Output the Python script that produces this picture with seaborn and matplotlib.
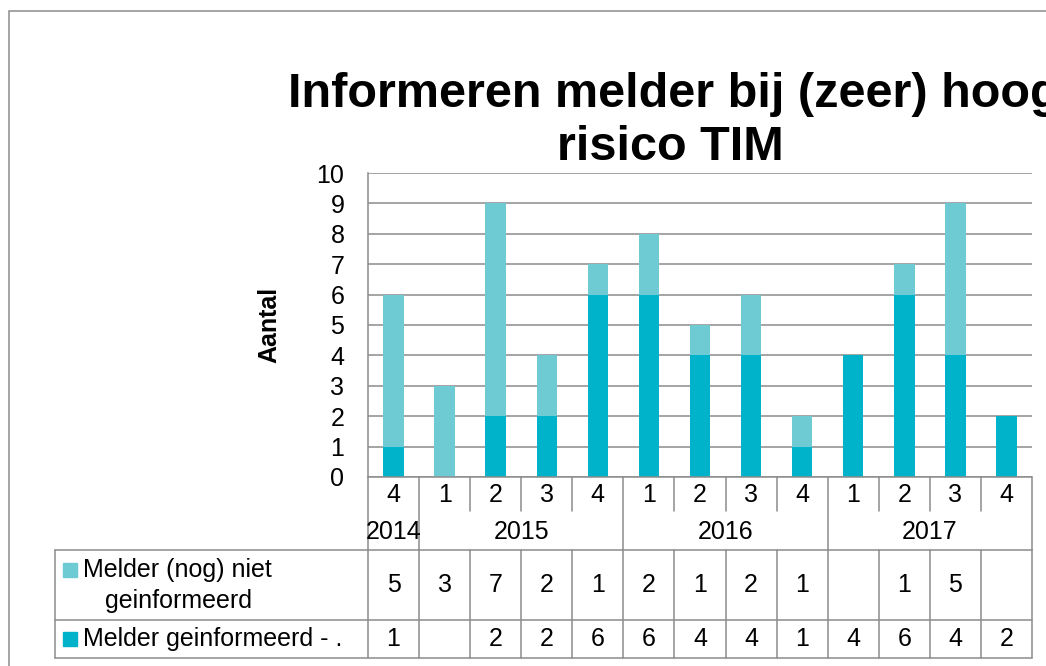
import pandas as pd
import matplotlib
matplotlib.use('Agg')
import matplotlib.pyplot as plt
import seaborn as sns
import numpy as np
from matplotlib.transforms import blended_transform_factory
from matplotlib.patches import Rectangle

# data per kwartaal
jaren = [2014, 2015, 2015, 2015, 2015, 2016, 2016, 2016, 2016, 2017, 2017, 2017, 2017]
kwartalen = [4, 1, 2, 3, 4, 1, 2, 3, 4, 1, 2, 3, 4]
geinformeerd = [1, 0, 2, 2, 6, 6, 4, 4, 1, 4, 6, 4, 2]
niet_geinformeerd = [5, 3, 7, 2, 1, 2, 1, 2, 1, 0, 1, 5, 0]
reeks_labels = [['Melder (nog) niet', 'geinformeerd'], ['Melder geinformeerd - .']]
titel = ['Informeren melder bij (zeer) hoog', 'risico TIM']

licht = '#6FCBD3'
donker = '#00B2CA'
grijs = '#8C8C8C'

df = pd.DataFrame({
    'periode': [f'{j}-{k}' for j, k in zip(jaren, kwartalen)],
    'jaar': jaren,
    'kwartaal': kwartalen,
    'geinformeerd': geinformeerd,
    'niet': niet_geinformeerd,
})
df['totaal'] = df['geinformeerd'] + df['niet']

sns.set_style('white')
plt.rcParams['font.family'] = ['Liberation Sans', 'DejaVu Sans']
plt.rcParams['text.color'] = 'black'
plt.rcParams['axes.labelcolor'] = 'black'
plt.rcParams['ytick.color'] = 'black'

W, H = 1046, 666
def fx(px):
    return px / W
def fy(py):
    return 1 - py / H

fig = plt.figure(figsize=(W / 100, H / 100), dpi=100)
ax_l, ax_t, ax_w, ax_h = 368, 173, 664, 304
ax = fig.add_axes([fx(ax_l), fy(ax_t + ax_h), ax_w / W, ax_h / H])

# gestapelde staven: totaal (licht) met geinformeerd (donker) erover
sns.barplot(data=df, x='periode', y='totaal', color=licht, saturation=1,
            width=0.4, errorbar=None, linewidth=0, ax=ax)
sns.barplot(data=df, x='periode', y='geinformeerd', color=donker, saturation=1,
            width=0.4, errorbar=None, linewidth=0, ax=ax)

ax.set_ylim(0, 10)
ax.set_yticks(range(0, 11))
ax.set_xlim(-0.5, len(df) - 0.5)
ax.set_xticks([])
ax.set_xlabel('')
ax.yaxis.grid(True, color=grijs, lw=1.1)
ax.set_axisbelow(True)
for s in ['top', 'right', 'bottom']:
    ax.spines[s].set_visible(False)
ax.spines['left'].set_color(grijs)
ax.spines['left'].set_linewidth(1.1)
ax.tick_params(axis='y', length=0, pad=17, labelsize=18, labelcolor='black')
ax.set_ylabel('Aantal', fontsize=18, fontweight='bold', color='black')
ax.yaxis.set_label_coords(-0.131, 0.5)

# titel
fig.text(fx(674), fy(107), titel[0], ha='center', va='baseline', fontsize=35, fontweight='bold')
fig.text(fx(670), fy(160), titel[1], ha='center', va='baseline', fontsize=35, fontweight='bold')

# kader om figuur
fig.patches.append(Rectangle((fx(9), -0.1), 1.2, fy(11) + 0.1, fill=False,
                             edgecolor=grijs, lw=1.1, transform=fig.transFigure))

# as-labels en datatabel
tr = blended_transform_factory(ax.transData, fig.transFigure)
y_as, y_kw, y_tab, y_mid, y_bot = fy(477), fy(511), fy(550), fy(620), fy(658)
lk = dict(color=grijs, lw=1.1, clip_on=False)

ax.plot([-0.5, len(df) - 0.5], [y_as, y_as], transform=tr, **lk)
for yy in [y_tab, y_mid, y_bot]:
    fig.add_artist(plt.Line2D([fx(55), fx(ax_l + ax_w)], [yy, yy], transform=fig.transFigure, **lk))
fig.add_artist(plt.Line2D([fx(55), fx(55)], [y_tab, y_bot], transform=fig.transFigure, **lk))

grenzen = np.arange(-0.5, len(df))
for b in grenzen:
    links = int(b - 0.5)
    rechts = int(b + 0.5)
    jaargrens = links < 0 or rechts >= len(df) or jaren[links] != jaren[rechts]
    ax.plot([b, b], [y_as, y_tab if jaargrens else y_kw], transform=tr, **lk)
    ax.plot([b, b], [y_tab, y_bot], transform=tr, **lk)

for i, k in enumerate(kwartalen):
    ax.text(i, fy(495), str(k), transform=tr, ha='center', va='center', fontsize=18)

for j, grp in df.groupby('jaar'):
    ax.text(np.mean(grp.index), fy(532), str(j), transform=tr, ha='center', va='center', fontsize=18)

for rij, (waarden, yc) in enumerate([(niet_geinformeerd, 585), (geinformeerd, 639)]):
    for i, v in enumerate(waarden):
        if v:
            ax.text(i, fy(yc), str(v), transform=tr, ha='center', va='center', fontsize=18)

# legenda in tabel
for kleur, ytop in [(licht, 563), (donker, 632)]:
    fig.patches.append(Rectangle((fx(63), fy(ytop + 14)), 14 / W, 14 / H,
                                 color=kleur, transform=fig.transFigure))
fig.text(fx(83), fy(570), reeks_labels[0][0], ha='left', va='center', fontsize=18)
fig.text(fx(105), fy(601), reeks_labels[0][1], ha='left', va='center', fontsize=18)
fig.text(fx(83), fy(639), reeks_labels[1][0], ha='left', va='center', fontsize=18)

plt.savefig('out.png', dpi=100)
